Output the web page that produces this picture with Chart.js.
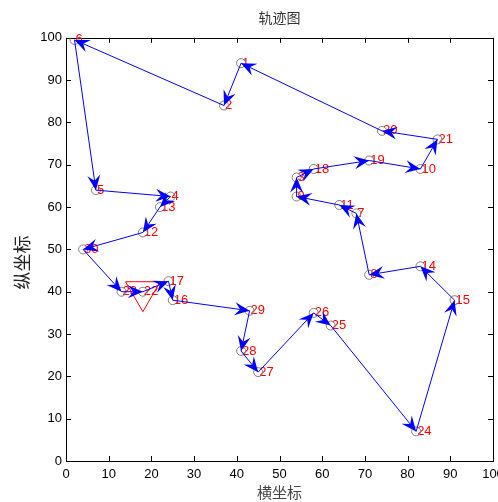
<!DOCTYPE html>
<html>
<head>
<meta charset="utf-8">
<script src="https://cdn.jsdelivr.net/npm/chart.js@4.4.0/dist/chart.umd.min.js"></script>
<style>
html, body { margin: 0; padding: 0; background: #fff; overflow: hidden; }
</style>
</head>
<body>
<canvas id="route-chart" width="520" height="502"></canvas>
<script>
// city coordinates, index = city number - 1
var cityX = [41, 37, 54, 24.5, 7, 2, 68, 71, 54, 83, 64, 18, 22, 83, 91, 25, 24, 58, 71, 74, 87, 18, 13, 82, 62, 58, 45, 41, 43, 4];
var cityY = [94, 84, 67, 62.5, 64, 99.5, 58.5, 44, 62.5, 69, 60.5, 54, 60, 46, 38, 38, 42.5, 69, 71, 78, 76, 40, 40, 7, 32, 35, 21, 26, 35.5, 50];
// visiting order
var route = [1, 2, 6, 5, 4, 13, 12, 30, 23, 22, 17, 16, 29, 28, 27, 26, 25, 24, 15, 14, 8, 7, 11, 9, 3, 18, 19, 10, 21, 20, 1];
var startCity = 22;
var xTicks = [0, 10, 20, 30, 40, 50, 60, 70, 80, 90, 100];
var yTicks = [0, 10, 20, 30, 40, 50, 60, 70, 80, 90, 100];
var yTitle = '纵坐标';

var numFont = '13px "Liberation Sans", Arial, sans-serif';

var cityPoints = cityX.map(function (x, i) { return { x: x, y: cityY[i] }; });
var routePoints = route.map(function (id) { return cityPoints[id - 1]; });

// box + inward ticks + red city numbers, arrow heads on top
var framePlugin = {
    id: 'frame',
    beforeDatasetsDraw: function (chart) {
        var ctx = chart.ctx, a = chart.chartArea;
        var xs = chart.scales.x, ys = chart.scales.y;
        ctx.save();
        ctx.strokeStyle = '#000';
        ctx.lineWidth = 1;
        ctx.strokeRect(Math.round(a.left) + 0.5, Math.round(a.top) + 0.5, Math.round(a.right - a.left), Math.round(a.bottom - a.top));
        ctx.beginPath();
        xTicks.forEach(function (v) {
            var px = Math.round(xs.getPixelForValue(v)) + 0.5;
            ctx.moveTo(px, a.bottom); ctx.lineTo(px, a.bottom - 5);
            ctx.moveTo(px, a.top); ctx.lineTo(px, a.top + 5);
        });
        yTicks.forEach(function (v) {
            var py = Math.round(ys.getPixelForValue(v)) + 0.5;
            ctx.moveTo(a.left, py); ctx.lineTo(a.left + 5, py);
            ctx.moveTo(a.right, py); ctx.lineTo(a.right - 5, py);
        });
        ctx.stroke();

        // y label, sits a bit below the axis middle like the original
        ctx.save();
        ctx.translate(22, (a.top + a.bottom) / 2 + 13);
        ctx.rotate(-Math.PI / 2);
        ctx.fillStyle = '#222';
        ctx.font = '18px "Noto Sans CJK SC"';
        ctx.textAlign = 'center';
        ctx.textBaseline = 'middle';
        ctx.fillText(yTitle, 0, 0);
        ctx.restore();

        ctx.fillStyle = '#ff0000';
        ctx.font = numFont;
        ctx.textAlign = 'left';
        ctx.textBaseline = 'middle';
        cityPoints.forEach(function (p, i) {
            ctx.fillText(String(i + 1), xs.getPixelForValue(p.x) + 1, ys.getPixelForValue(p.y));
        });
        ctx.restore();
    },
    afterDatasetsDraw: function (chart) {
        var ctx = chart.ctx;
        var meta = chart.getDatasetMeta(0);
        ctx.save();
        ctx.fillStyle = '#0000ff';
        for (var i = 1; i < meta.data.length; ++i) {
            var p0 = meta.data[i - 1], p1 = meta.data[i];
            var dx = p1.x - p0.x, dy = p1.y - p0.y;
            var len = Math.sqrt(dx * dx + dy * dy);
            if (len === 0) continue;
            var ux = dx / len, uy = dy / len;
            var nx = -uy, ny = ux;
            var L = 15, W = 6.5, N = 9.5;
            ctx.beginPath();
            ctx.moveTo(p1.x, p1.y);
            ctx.lineTo(p1.x - ux * L + nx * W, p1.y - uy * L + ny * W);
            ctx.lineTo(p1.x - ux * N, p1.y - uy * N);
            ctx.lineTo(p1.x - ux * L - nx * W, p1.y - uy * L - ny * W);
            ctx.closePath();
            ctx.fill();
        }
        ctx.restore();
    }
};

var ctx = document.getElementById('route-chart');
var myChart = new Chart(ctx, {
    type: 'scatter',
    data: {
        datasets: [{
            data: routePoints,
            showLine: true,
            borderColor: '#0000ff',
            borderWidth: 1,
            pointRadius: 0,
            order: 0
        }, {
            data: [cityPoints[startCity - 1]],
            pointStyle: 'triangle',
            rotation: 180,
            pointRadius: 20,
            borderColor: '#ff0000',
            backgroundColor: 'rgba(0,0,0,0)',
            borderWidth: 1,
            order: 1
        }, {
            data: cityPoints,
            pointStyle: 'circle',
            pointRadius: 4.5,
            borderColor: '#808080',
            backgroundColor: 'rgba(0,0,0,0)',
            borderWidth: 1,
            order: 2
        }]
    },
    options: {
        responsive: false,
        animation: false,
        devicePixelRatio: 1,
        layout: { padding: { top: 0, right: 27, bottom: 0, left: 0 } },
        plugins: {
            legend: { display: false },
            tooltip: { enabled: false },
            title: {
                display: true,
                text: '轨迹图',
                fullSize: false,
                color: '#333',
                font: { family: '"Noto Sans CJK SC"', size: 14, weight: 'normal' },
                padding: { top: 9, bottom: 12 }
            }
        },
        scales: {
            x: {
                type: 'linear', min: 0, max: 100,
                grid: { display: false, drawTicks: false },
                border: { display: false },
                ticks: { stepSize: 10, color: '#000', padding: 6, font: { family: '"Liberation Sans", Arial', size: 13 } },
                title: {
                    display: true, text: '横坐标', color: '#444',
                    font: { family: '"Noto Sans CJK SC"', size: 15 },
                    padding: { top: 0, bottom: 1 }
                },
                afterFit: function (scale) { scale.height = 41; }
            },
            y: {
                type: 'linear', min: 0, max: 100,
                grid: { display: false, drawTicks: false },
                border: { display: false },
                ticks: { stepSize: 10, color: '#000', padding: 4, font: { family: '"Liberation Sans", Arial', size: 13 } },
                afterFit: function (scale) { scale.width = 66; }
            }
        }
    },
    plugins: [framePlugin]
});
</script>
</body>
</html>
